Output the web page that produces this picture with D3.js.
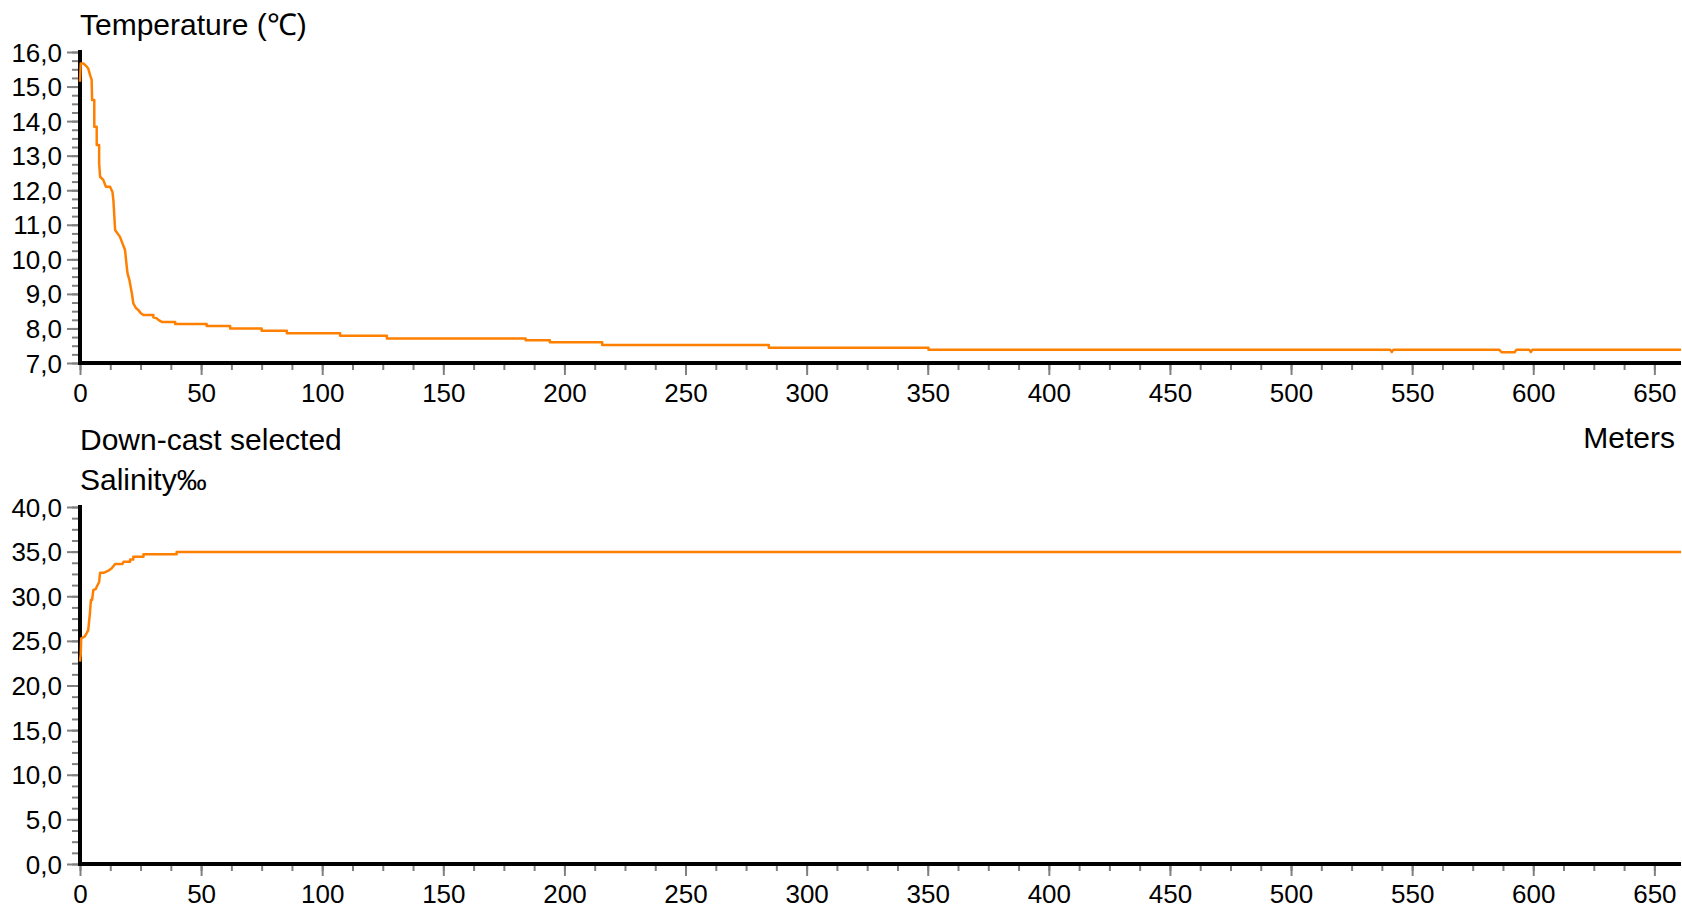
<!DOCTYPE html>
<html>
<head>
<meta charset="utf-8">
<script src="https://cdn.jsdelivr.net/npm/d3@7"></script>
<style>
  body { margin: 0; background: #fff; }
  text { font-family: "Liberation Sans", Arial, sans-serif; fill: #000; }
</style>
</head>
<body>
<svg class="chart"></svg>
<script>
// depth (m) and readings
var tempDepth = [0, 0.3, 1.4, 2.5, 3.4, 4.3, 4.8, 5.0, 5.9, 5.9, 6.9, 6.9, 7.9, 7.9, 8.3, 9.6, 10.7, 12.4, 13.4, 13.8,
  14.5, 16.5, 18.6, 19.3, 19.6, 20.4, 21.4, 22, 23, 24.1, 25, 26.2, 30.3, 30.3, 31.7, 32.5, 33.8, 39.3, 39.3,
  52.3, 52.3, 62, 62, 75, 75, 85.4, 85.4, 107.4, 107.4, 126.7, 126.7, 184, 184, 194, 194, 215.6, 215.6,
  284.4, 284.4, 350.3, 350.3, 541, 541.6, 542.2, 586, 587, 592.3, 593, 598.4, 599, 599.6, 661];
var tempValues = [15.14, 15.67, 15.67, 15.6, 15.52, 15.3, 15.2, 14.61, 14.61, 13.84, 13.84, 13.31, 13.31, 12.78, 12.39, 12.3, 12.1, 12.1, 11.95, 11.7,
  10.85, 10.65, 10.27, 9.79, 9.6, 9.40, 9.02, 8.73, 8.6, 8.53, 8.45, 8.39, 8.39, 8.32, 8.29, 8.24, 8.19, 8.19, 8.13,
  8.13, 8.07, 8.07, 8.0, 8.0, 7.93, 7.93, 7.86, 7.86, 7.79, 7.79, 7.71, 7.71, 7.66, 7.66, 7.6, 7.6, 7.52,
  7.52, 7.44, 7.44, 7.38, 7.38, 7.32, 7.38, 7.38, 7.31, 7.31, 7.38, 7.38, 7.32, 7.38, 7.38];

var salDepth = [0, 0.3, 0.5, 2.0, 2.7, 3.4, 4.1, 4.5, 5.0, 5.5, 6.5, 6.9, 7.9, 8.3, 10, 11.7, 13.1, 14.5, 17.5, 18,
  20.7, 20.7, 22, 22, 26.2, 26.2, 39.9, 39.9, 661];
var salValues = [22.67, 23.5, 25.29, 25.5, 25.84, 26.2, 28.1, 29.58, 29.58, 30.7, 30.8, 31.07, 31.6, 32.64, 32.64, 32.86, 33.13, 33.61, 33.61, 33.87,
  33.87, 34.13, 34.13, 34.43, 34.43, 34.7, 34.7, 34.96, 34.96];

var xTicks = [0, 50, 100, 150, 200, 250, 300, 350, 400, 450, 500, 550, 600, 650];
var tempTicks = [7, 8, 9, 10, 11, 12, 13, 14, 15, 16];
var salTicks = [0, 5, 10, 15, 20, 25, 30, 35, 40];

var width = 1682;
var height = 908;
var svg = d3.select(".chart").attr("width", width).attr("height", height);

var x_scale = d3.scaleLinear().domain([0, 661]).range([80, 1681]);
var fmt = function(d){ return d3.format(".1f")(d).replace(".", ","); };

function panel(depth, values, yTicks, minorStep, top, bottom) {
  var y_scale = d3.scaleLinear()
      .domain([d3.min(yTicks), d3.max(yTicks)])
      .range([bottom, top]);

  var minorY = d3.range(d3.min(yTicks), d3.max(yTicks) + 1e-9, minorStep);
  var minorX = d3.range(0, 661, 12.5);

  // minor ticks
  svg.append("g").attr("transform", "translate(80,0)")
      .call(d3.axisLeft(y_scale).tickValues(minorY).tickSize(8).tickFormat(""))
      .call(function(g){ g.select(".domain").remove(); });
  svg.append("g").attr("transform", "translate(0," + bottom + ")")
      .call(d3.axisBottom(x_scale).tickValues(minorX).tickSize(7).tickFormat(""))
      .call(function(g){ g.select(".domain").remove(); });

  // major ticks + labels
  var ya = svg.append("g").attr("transform", "translate(80,0)")
      .call(d3.axisLeft(y_scale).tickValues(yTicks).tickSize(13).tickPadding(5).tickFormat(fmt));
  ya.select(".domain").remove();
  ya.selectAll(".tick line").attr("x2", -13).attr("x1", 2);
  ya.selectAll("text").style("font-size", "26px").attr("dy", "0.35em");

  var xa = svg.append("g").attr("transform", "translate(0," + bottom + ")")
      .call(d3.axisBottom(x_scale).tickValues(xTicks).tickSize(12).tickPadding(9));
  xa.select(".domain").remove();
  xa.selectAll(".tick line").attr("y1", -2);
  xa.selectAll("text").style("font-size", "26px");

  svg.selectAll(".tick line").attr("stroke", "#808080").attr("stroke-width", 2);
  svg.selectAll(".tick text").attr("fill", "#000");

  // axis lines
  svg.append("line").attr("x1", 80).attr("x2", 80).attr("y1", top - 2).attr("y2", bottom + 2)
      .attr("stroke", "#000").attr("stroke-width", 4);
  svg.append("line").attr("x1", 78).attr("x2", 1681).attr("y1", bottom).attr("y2", bottom)
      .attr("stroke", "#000").attr("stroke-width", 4);

  var line = d3.line()
      .x(function(d, i){ return x_scale(depth[i]); })
      .y(function(d){ return y_scale(d); });
  svg.append("path")
      .datum(values)
      .attr("d", line)
      .attr("fill", "none")
      .attr("stroke", "#ff8000")
      .attr("stroke-width", 2.5)
      .attr("stroke-linejoin", "round");
}

panel(tempDepth, tempValues, tempTicks, 0.25, 52, 363);
panel(salDepth, salValues, salTicks, 1.25, 507, 864);

svg.append("text").attr("x", 80).attr("y", 35).style("font-size", "30px").text("Temperature (℃)");
svg.append("text").attr("x", 80).attr("y", 450).style("font-size", "30px").text("Down-cast selected");
svg.append("text").attr("x", 80).attr("y", 490).style("font-size", "30px").text("Salinity‰");
svg.append("text").attr("x", 1675).attr("y", 448).attr("text-anchor", "end").style("font-size", "30px").text("Meters");
</script>
</body>
</html>
